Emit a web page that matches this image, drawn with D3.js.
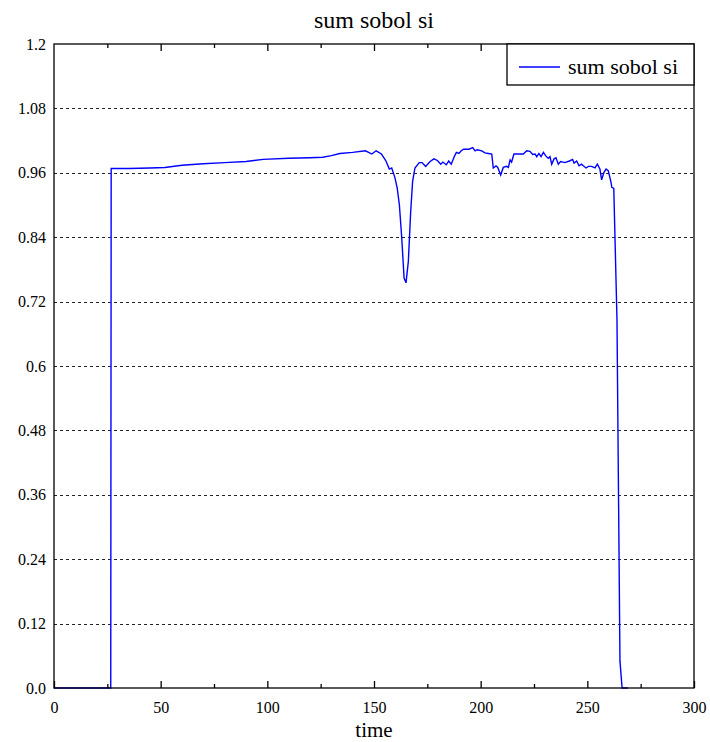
<!DOCTYPE html>
<html>
<head>
<meta charset="utf-8">
<script src="https://cdn.jsdelivr.net/npm/d3@7"></script>
<style>
  body { margin: 0; background: #fff; }
  svg { display: block; }
  svg text { font-family: "Liberation Serif", "Times New Roman", Times, Tinos, "DejaVu Serif", "Noto Serif", serif; }
</style>
</head>
<body>
<svg id="chart" width="710" height="742"></svg>
<script>
const chartTitle = "sum sobol si";
const xLabel = "time";
const seriesName = "sum sobol si";

const times = [0, 26.6, 26.8, 35, 45, 52, 60, 70, 80, 90, 98, 110, 120, 126, 130, 134, 140, 146,
  149, 151, 153.5, 155.6, 157.2, 158.3, 159.8, 160.9, 161.9, 163, 164.1, 165, 166.1, 167.2, 168.1, 169.2,
  171.2, 172.5, 174.2, 176.3, 178.1, 179.7, 181.3, 182.3, 183.9, 185, 186.2, 187.6, 188.6, 189.8, 190.9,
  192, 194.5, 196.3, 197.4, 198.4, 200.5, 202, 203.6, 205.2, 205.9, 207.2, 208, 209.4, 210.6, 212.2,
  213, 213.8, 214.5, 215.6, 217.6, 220, 221.6, 223.1, 224.4, 225.5, 226.3, 227.3, 228.3, 229.4, 230.6,
  231.7, 232.5, 233.3, 234.4, 235.3, 236.4, 237.5, 239.5, 241.6, 243.1, 243.8, 245, 246.1, 247.3, 248.1,
  249.4, 250.5, 252, 253.6, 254.7, 255.9, 256.7, 257.8, 258.8, 259.8, 261, 261.5, 262.4, 263.9, 265.3,
  266.3, 269];
const sumSobol = [0, 0, 0.968, 0.968, 0.969, 0.970, 0.974, 0.977, 0.979, 0.981, 0.985, 0.987, 0.988, 0.989,
  0.992, 0.996, 0.998, 1.001,
  0.995, 1.001, 0.995, 0.982, 0.967, 0.969, 0.951, 0.931, 0.900, 0.839, 0.764, 0.755, 0.795, 0.888, 0.944, 0.969,
  0.979, 0.979, 0.972, 0.981, 0.986, 0.983, 0.976, 0.980, 0.975, 0.982, 0.976, 0.990, 0.998, 0.996, 1.001,
  1.004, 1.004, 1.007, 1.001, 1.003, 1.001, 0.997, 0.996, 0.995, 0.969, 0.973, 0.970, 0.956, 0.970, 0.972,
  0.970, 0.984, 0.980, 0.995, 0.995, 0.995, 1.001, 1.000, 0.994, 0.995, 0.990, 0.996, 0.990, 0.998, 0.991,
  0.987, 0.990, 0.976, 0.986, 0.988, 0.976, 0.981, 0.979, 0.982, 0.985, 0.978, 0.982, 0.973, 0.976, 0.973,
  0.969, 0.972, 0.972, 0.969, 0.976, 0.967, 0.947, 0.961, 0.967, 0.964, 0.944, 0.933, 0.931, 0.686, 0.05,
  0, 0];

const xTickValues = [0, 50, 100, 150, 200, 250, 300];
const xMinorTicks = [25, 75, 125, 175, 225, 275];
const yTickValues = [0.0, 0.12, 0.24, 0.36, 0.48, 0.6, 0.72, 0.84, 0.96, 1.08, 1.2];
const yTickLabels = ["0.0", "0.12", "0.24", "0.36", "0.48", "0.6", "0.72", "0.84", "0.96", "1.08", "1.2"];

const margin = { left: 54, right: 16, top: 44, bottom: 54 };
const W = 710, H = 742;
const iw = W - margin.left - margin.right;
const ih = H - margin.top - margin.bottom;

const svg = d3.select("#chart");
const g = svg.append("g").attr("transform", `translate(${margin.left},${margin.top})`);

const x = d3.scaleLinear().domain([0, 300]).range([0, iw]);
const y = d3.scaleLinear().domain([0, 1.2]).range([ih, 0]);

// gridlines
g.append("g").selectAll("line")
  .data(yTickValues.filter(v => v > 0 && v < 1.2))
  .join("line")
  .attr("x1", 0).attr("x2", iw)
  .attr("y1", d => Math.round(y(d)) + 0.5).attr("y2", d => Math.round(y(d)) + 0.5)
  .attr("stroke", "#222").attr("stroke-width", 1.1)
  .attr("stroke-dasharray", "3,3");

// line
const data = times.map((t, i) => ({ t, v: sumSobol[i] }));
g.append("path")
  .datum(data)
  .attr("fill", "none")
  .attr("stroke", "#0000ff")
  .attr("stroke-width", 1.4)
  .attr("d", d3.line().x(d => x(d.t)).y(d => y(d.v)));

// frame
g.append("rect").attr("x", 0).attr("y", 0).attr("width", iw).attr("height", ih)
  .attr("fill", "none").attr("stroke", "#000").attr("stroke-width", 1.3);

// x axis bottom (labels + inward ticks)
const xAxis = d3.axisBottom(x).tickValues(xTickValues).tickSize(-7).tickPadding(14).tickFormat(d3.format("d"));
const xa = g.append("g").attr("transform", `translate(0,${ih})`).call(xAxis);
xa.attr("font-family", null).attr("font-size", null);
xa.select(".domain").remove();
xa.selectAll("text").attr("font-size", 16).attr("fill", "#000");
xa.selectAll("line").attr("stroke", "#000").attr("stroke-width", 1.3);

const xMinor = d3.axisBottom(x).tickValues(xMinorTicks).tickSize(-4).tickFormat("");
const xm = g.append("g").attr("transform", `translate(0,${ih})`).call(xMinor);
xm.select(".domain").remove();
xm.selectAll("line").attr("stroke", "#000").attr("stroke-width", 1.3);

// top ticks
const xTop = d3.axisTop(x).tickValues(xTickValues.filter(v => v > 0 && v < 300)).tickSize(-7).tickFormat("");
const xt = g.append("g").call(xTop);
xt.select(".domain").remove();
xt.selectAll("line").attr("stroke", "#000").attr("stroke-width", 1.3);
const xTopMinor = d3.axisTop(x).tickValues(xMinorTicks).tickSize(-4).tickFormat("");
const xtm = g.append("g").call(xTopMinor);
xtm.select(".domain").remove();
xtm.selectAll("line").attr("stroke", "#000").attr("stroke-width", 1.3);

// y axis labels
const yAxis = d3.axisLeft(y).tickValues(yTickValues).tickSize(0).tickPadding(8)
  .tickFormat((d, i) => yTickLabels[i]);
const ya = g.append("g").call(yAxis);
ya.attr("font-family", null).attr("font-size", null);
ya.select(".domain").remove();
ya.selectAll("text").attr("font-size", 16).attr("fill", "#000");

// title
svg.append("text").attr("x", margin.left + iw / 2).attr("y", 28)
  .attr("text-anchor", "middle").attr("font-size", 24).text(chartTitle);

// x label
svg.append("text").attr("x", margin.left + iw / 2).attr("y", 737)
  .attr("text-anchor", "middle").attr("font-size", 21).text(xLabel);

// legend
const lg = g.append("g").attr("transform", `translate(${iw - 187},0)`);
lg.append("rect").attr("x", 0).attr("y", 0).attr("width", 187).attr("height", 41)
  .attr("fill", "#fff").attr("stroke", "#000").attr("stroke-width", 1.3);
lg.append("line").attr("x1", 12).attr("x2", 53).attr("y1", 23).attr("y2", 23)
  .attr("stroke", "#0000ff").attr("stroke-width", 1.4);
lg.append("text").attr("x", 61).attr("y", 30).attr("font-size", 22).text(seriesName);
</script>
</body>
</html>
